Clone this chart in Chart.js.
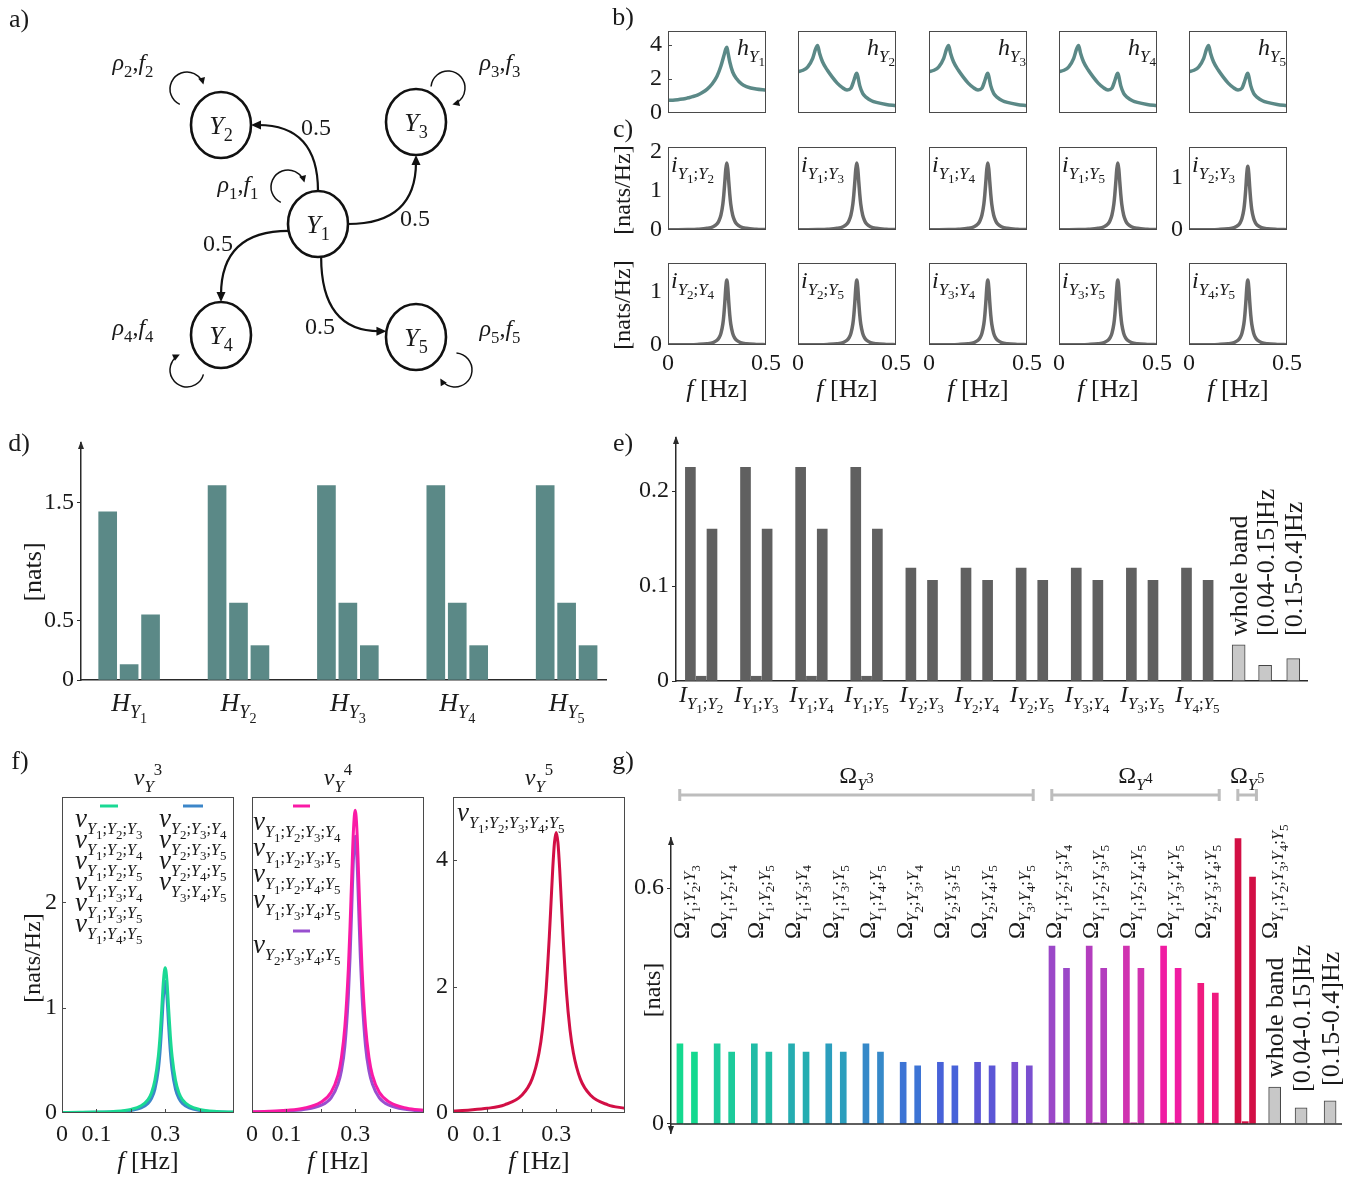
<!DOCTYPE html>
<html><head><meta charset="utf-8"><title>Figure</title>
<script src="https://cdn.jsdelivr.net/npm/chart.js@4.4.1/dist/chart.umd.min.js"></script>
<style>
html,body{margin:0;padding:0;background:#fff;}
#root{position:relative;width:1367px;height:1177px;overflow:hidden;background:#fff;}
#root canvas{position:absolute;}
</style></head><body><div id="root"></div>
<script>
// ================= DATA =================
// a) network
const NODE_LABELS=['Y_1','Y_2','Y_3','Y_4','Y_5'];
const NODE_X=[318,221,416,221,416];
const NODE_Y=[224,125,122,335,337];
const LOOP_LABELS=['ρ_1,f_1','ρ_2,f_2','ρ_3,f_3','ρ_4,f_4','ρ_5,f_5'];
const EDGE_TO=[1,2,3,4];
const EDGE_W=[0.5,0.5,0.5,0.5];

// b) spectra
const F_H=[0,0.025,0.05,0.075,0.09,0.1,0.11,0.125,0.15,0.175,0.2,0.225,0.25,0.27,0.285,0.295,0.3,0.305,0.315,0.33,0.35,0.375,0.4,0.45,0.5];
const hY1=[0.74,0.75,0.78,0.82,0.85,0.88,0.91,0.96,1.05,1.2,1.4,1.7,2.15,2.75,3.35,3.75,3.85,3.6,3.0,2.4,2.0,1.7,1.55,1.4,1.34];
const hY2=[2.42,2.5,2.7,3.2,3.75,3.95,3.5,3.0,2.5,2.1,1.75,1.5,1.35,1.45,1.9,2.25,2.33,2.15,1.6,1.15,0.9,0.72,0.62,0.5,0.43];
const hY3=[2.42,2.5,2.7,3.2,3.75,3.95,3.5,3.0,2.5,2.1,1.75,1.5,1.35,1.45,1.9,2.25,2.33,2.15,1.6,1.15,0.9,0.72,0.62,0.5,0.43];
const hY4=[2.42,2.5,2.7,3.2,3.75,3.95,3.5,3.0,2.5,2.1,1.75,1.5,1.35,1.45,1.9,2.25,2.33,2.15,1.6,1.15,0.9,0.72,0.62,0.5,0.43];
const hY5=[2.42,2.5,2.7,3.2,3.75,3.95,3.5,3.0,2.5,2.1,1.75,1.5,1.35,1.45,1.9,2.25,2.33,2.15,1.6,1.15,0.9,0.72,0.62,0.5,0.43];
const H_NAMES=['h_{Y_1}','h_{Y_2}','h_{Y_3}','h_{Y_4}','h_{Y_5}'];

// c) pairwise spectral MI & f) O-information spectra
const F=[0,0.05,0.1,0.15,0.2,0.23,0.25,0.26,0.27,0.28,0.285,0.29,0.295,0.3,0.305,0.31,0.315,0.32,0.33,0.34,0.35,0.37,0.4,0.45,0.5];
const iWithY1=[0.005,0.007,0.011,0.019,0.043,0.085,0.16,0.24,0.38,0.67,0.92,1.24,1.57,1.72,1.57,1.24,0.92,0.67,0.38,0.24,0.16,0.085,0.043,0.019,0.011];
const iOthers=[0.003,0.004,0.006,0.011,0.024,0.047,0.089,0.134,0.22,0.40,0.57,0.81,1.09,1.23,1.09,0.81,0.57,0.40,0.22,0.134,0.089,0.047,0.024,0.011,0.006];
const I_NAMES=['i_{Y_1;Y_2}','i_{Y_1;Y_3}','i_{Y_1;Y_4}','i_{Y_1;Y_5}','i_{Y_2;Y_3}','i_{Y_2;Y_4}','i_{Y_2;Y_5}','i_{Y_3;Y_4}','i_{Y_3;Y_5}','i_{Y_4;Y_5}'];

const vGreen=[0.004,0.006,0.009,0.015,0.034,0.069,0.128,0.19,0.31,0.54,0.73,0.99,1.26,1.38,1.26,0.99,0.73,0.54,0.31,0.19,0.128,0.069,0.034,0.015,0.009];
const vBlue=[0.003,0.004,0.006,0.011,0.024,0.048,0.091,0.136,0.224,0.41,0.58,0.83,1.11,1.25,1.11,0.83,0.58,0.41,0.224,0.136,0.091,0.048,0.024,0.011,0.006];
const vPink=[0.019,0.027,0.043,0.076,0.17,0.33,0.60,0.88,1.37,2.27,2.95,3.75,4.48,4.79,4.48,3.75,2.95,2.27,1.37,0.88,0.60,0.33,0.17,0.076,0.043];
const vPurple=[0.014,0.020,0.031,0.056,0.12,0.24,0.46,0.67,1.06,1.84,2.46,3.25,4.03,4.38,4.03,3.25,2.46,1.84,1.06,0.67,0.46,0.24,0.12,0.056,0.031];
const vRed=[0.033,0.048,0.074,0.13,0.28,0.54,0.95,1.32,1.90,2.79,3.33,3.87,4.28,4.44,4.28,3.87,3.33,2.79,1.90,1.32,0.95,0.54,0.28,0.13,0.074];
const V3_LEFT=['ν_{Y_1;Y_2;Y_3}','ν_{Y_1;Y_2;Y_4}','ν_{Y_1;Y_2;Y_5}','ν_{Y_1;Y_3;Y_4}','ν_{Y_1;Y_3;Y_5}','ν_{Y_1;Y_4;Y_5}'];
const V3_RIGHT=['ν_{Y_2;Y_3;Y_4}','ν_{Y_2;Y_3;Y_5}','ν_{Y_2;Y_4;Y_5}','ν_{Y_3;Y_4;Y_5}'];
const V4_A=['ν_{Y_1;Y_2;Y_3;Y_4}','ν_{Y_1;Y_2;Y_3;Y_5}','ν_{Y_1;Y_2;Y_4;Y_5}','ν_{Y_1;Y_3;Y_4;Y_5}'];
const V4_B=['ν_{Y_2;Y_3;Y_4;Y_5}'];
const V5=['ν_{Y_1;Y_2;Y_3;Y_4;Y_5}'];
const V_TITLES=['ν_{Y}^{3}','ν_{Y}^{4}','ν_{Y}^{5}'];

// d) entropies
const H_CATS=['H_{Y_1}','H_{Y_2}','H_{Y_3}','H_{Y_4}','H_{Y_5}'];
const H_WHOLE=[1.42,1.64,1.64,1.64,1.64];
const H_LF=[0.13,0.65,0.65,0.65,0.65];
const H_HF=[0.55,0.29,0.29,0.29,0.29];

// e) mutual information
const I_CATS=['I_{Y_1;Y_2}','I_{Y_1;Y_3}','I_{Y_1;Y_4}','I_{Y_1;Y_5}','I_{Y_2;Y_3}','I_{Y_2;Y_4}','I_{Y_2;Y_5}','I_{Y_3;Y_4}','I_{Y_3;Y_5}','I_{Y_4;Y_5}'];
const I_WHOLE=[0.225,0.225,0.225,0.225,0.119,0.119,0.119,0.119,0.119,0.119];
const I_LF=[0.005,0.005,0.005,0.005,0,0,0,0,0,0];
const I_HF=[0.160,0.160,0.160,0.160,0.106,0.106,0.106,0.106,0.106,0.106];
const BANDS=['whole band','[0.04-0.15]Hz','[0.15-0.4]Hz'];
const I_BAND_KEY=[0.038,0.0165,0.0235];

// g) O-information
const O_CATS=['Ω_{Y_1;Y_2;Y_3}','Ω_{Y_1;Y_2;Y_4}','Ω_{Y_1;Y_2;Y_5}','Ω_{Y_1;Y_3;Y_4}','Ω_{Y_1;Y_3;Y_5}','Ω_{Y_1;Y_4;Y_5}','Ω_{Y_2;Y_3;Y_4}','Ω_{Y_2;Y_3;Y_5}','Ω_{Y_2;Y_4;Y_5}','Ω_{Y_3;Y_4;Y_5}','Ω_{Y_1;Y_2;Y_3;Y_4}','Ω_{Y_1;Y_2;Y_3;Y_5}','Ω_{Y_1;Y_2;Y_4;Y_5}','Ω_{Y_1;Y_3;Y_4;Y_5}','Ω_{Y_2;Y_3;Y_4;Y_5}','Ω_{Y_1;Y_2;Y_3;Y_4;Y_5}'];
const O_WHOLE=[0.204,0.204,0.204,0.204,0.204,0.204,0.157,0.157,0.157,0.157,0.453,0.453,0.453,0.453,0.358,0.726];
const O_LF=[0,0,0,0,0,0,0,0,0,0,0.003,0.003,0.003,0.003,0.002,0.006];
const O_HF=[0.183,0.183,0.183,0.183,0.183,0.183,0.148,0.148,0.148,0.148,0.396,0.396,0.396,0.396,0.333,0.628];
const O_GROUP_TITLES=['Ω_{Y^{3}}','Ω_{Y^{4}}','Ω_{Y^{5}}'];
const O_GROUP_SIZES=[10,5,1];
const O_BAND_KEY=[0.094,0.041,0.059];

// ================= STYLE =================
const INK='#1a1a1a', AX='#2a2a2a', TEAL='#5b8987', IGRAY='#6a6a6a', EBAR='#606060', FRAME='#4a4a4a';
const GREEN='#1ad994', BLUE='#3c86c9', PINK='#fa1aa6', PURPLE='#984fcf', RED='#d20f45';
const G_COLORS=['#14d98f','#1ccb9b','#20bca6','#25adb1','#2b9ebd','#3689c9','#3d74d5','#4762d9','#5b56d6','#7a4fd0','#9b48c8','#b33dbe','#d033b0','#f01ca2','#ef1a7f','#d20f45'];
const KEY_FILL='#c8c8c8', KEY_EDGE='#454545';
const SERIF='"Liberation Serif","Times New Roman",serif';
const TF={family:"'Liberation Serif', serif", size:24};
const root=document.getElementById('root');

// ================= helpers =================
function parseM(s){let i=0;function grp(){const out=[];while(i<s.length){const ch=s[i];
 if(ch==='}'){i++;return out;}
 if(ch==='_'||ch==='^'){i++;let a;if(s[i]==='{'){i++;a=grp();}else{a=[{t:'c',v:s[i]}];i++;}out.push({t:ch,c:a});}
 else if(ch==='~'){out.push({t:'~'});i++;}
 else{out.push({t:'c',v:ch});i++;}}return out;}return grp();}
function runM(ctx,nodes,x,y,size,draw,st,depth,R){let w=0;for(const n of nodes){
 if(n.t==='~'){st.up=!st.up;continue;}
 if(n.t==='c'){const it=!st.up&&/[A-Za-z\u03b1-\u03c9]/.test(n.v);ctx.font=(it?'italic ':'')+size+'px '+SERIF;if(draw)ctx.fillText(n.v,x+w,y);w+=ctx.measureText(n.v).width;}
 else{const s2=Math.max(9,size*(depth===0?R[0]:R[1]));const dy=n.t==='_'?size*0.28:-size*0.42;w+=runM(ctx,n.c,x+w,y+dy,s2,draw,{up:st.up},depth+1,R);}}
 return w;}
function drawM(ctx,s,x,y,size,align,rot,color,r1,r2){const nodes=parseM(s);const R=[r1||0.7,r2||0.78];ctx.save();ctx.textAlign='left';ctx.textBaseline='alphabetic';ctx.fillStyle=color||INK;
 const w=runM(ctx,nodes,0,0,size,false,{up:false},0,R);ctx.translate(x,y);if(rot)ctx.rotate(rot);
 const ox=align==='center'?-w/2:align==='right'?-w:0;runM(ctx,nodes,ox,size*0.33,size,true,{up:false},0,R);ctx.restore();return w;}
function drawT(ctx,t,x,y,size,align,rot,color){ctx.save();ctx.font=size+'px '+SERIF;ctx.fillStyle=color||INK;ctx.textAlign=align||'left';ctx.textBaseline='alphabetic';ctx.translate(x,y);if(rot)ctx.rotate(rot);ctx.fillText(t,0,size*0.33);ctx.restore();}
function arrowHead(ctx,tip,ux,uy,len,hw){ctx.beginPath();ctx.moveTo(tip[0],tip[1]);ctx.lineTo(tip[0]-ux*len-uy*hw,tip[1]-uy*len+ux*hw);ctx.lineTo(tip[0]-ux*len+uy*hw,tip[1]-uy*len-ux*hw);ctx.closePath();ctx.fill();}

function mk(area,m,cfg){
 const [x0,y0,x1,y1]=area;
 const W=Math.round(x1-x0+m.l+m.r),H=Math.round(y1-y0+m.t+m.b);
 const c=document.createElement('canvas');c.width=W;c.height=H;
 c.style.left=(x0-m.l)+'px';c.style.top=(y0-m.t)+'px';c.style.width=W+'px';c.style.height=H+'px';
 root.appendChild(c);
 const o=cfg.options=cfg.options||{};
 o.responsive=false;o.maintainAspectRatio=false;o.animation=false;o.devicePixelRatio=1;o.events=[];
 o.layout={padding:{top:m.t,right:m.r,left:0,bottom:0},autoPadding:false};
 o.plugins=Object.assign({legend:{display:false},tooltip:{enabled:false},title:{display:false}},o.plugins||{});
 const fix=(s,isX)=>{if(isX)s.height=m.b;else s.width=m.l;s.paddingLeft=0;s.paddingRight=0;s.paddingTop=0;s.paddingBottom=0;};
 o.scales.x.afterFit=s=>fix(s,true);
 o.scales.y.afterFit=s=>fix(s,false);
 return new Chart(c,cfg);
}

function spec(area,o){
 const m={l:o.ml||0,t:o.mt||0,r:o.mr||0,b:o.mb||0};
 const ds=o.series.map(s=>({data:o.xs.map((x,i)=>({x,y:s.data[i]})),borderColor:s.color,borderWidth:s.w||3,pointRadius:0,cubicInterpolationMode:'monotone',fill:false}));
 return mk(area,m,{type:'line',data:{datasets:ds},options:{scales:{
  x:{type:'linear',min:0,max:0.5,offset:false,grid:{display:false,drawTicks:false},border:{display:false},
     ticks:{display:!!o.xTicks,font:TF,color:INK,padding:o.xPad??4,maxRotation:0,autoSkip:false,callback:v=>String(v)},
     afterBuildTicks:s=>{if(o.xTicks)s.ticks=o.xTicks.map(v=>({value:v}));}},
  y:{type:'linear',min:0,max:o.ymax,grid:{display:false,drawTicks:false},border:{display:false},
     ticks:{display:!!o.yTicks,font:TF,color:INK,padding:o.yPad??6,autoSkip:false,callback:v=>String(v)},
     afterBuildTicks:s=>{if(o.yTicks)s.ticks=o.yTicks.map(v=>({value:v}));}}
 }},plugins:[{id:'frame',afterDatasetsDraw(ch){const a=ch.chartArea,ctx=ch.ctx;ctx.save();ctx.strokeStyle=FRAME;ctx.lineWidth=1;
  ctx.strokeRect(a.left+0.5,a.top+0.5,a.width-1,a.height-1);ctx.beginPath();
  (o.yMinor||[]).forEach(v=>{const y=Math.round(ch.scales.y.getPixelForValue(v))+0.5;ctx.moveTo(a.left,y);ctx.lineTo(a.left+4,y);});
  (o.xMinor||[]).forEach(v=>{const x=Math.round(ch.scales.x.getPixelForValue(v))+0.5;ctx.moveTo(x,a.bottom);ctx.lineTo(x,a.bottom-4);});
  ctx.stroke();ctx.restore();if(o.draw)o.draw(ch);}}]});
}

// ================= a) network =================
const ELLIPSE=(()=>{const c=document.createElement('canvas');c.width=66;c.height=72;const x=c.getContext('2d');x.beginPath();x.ellipse(33,36,30,33,0,0,Math.PI*2);x.fillStyle='#fff';x.fill();x.lineWidth=2.6;x.strokeStyle='#111';x.stroke();return c;})();
const EDGE_GEOM=[[-90,0],[0,90],[168,-90],[84,190]];
const EDGE_LABEL_XY=[[316,127],[415,218],[218,243],[320,326]];
const LOOP_GEOM=[[-30,-37,115,345],[-34,-36,115,345],[32,-34,185,435],[-34,35,15,245],[39,33,275,510]];
const LOOP_LABEL_XY=[[238,184],[133,62],[500,62],[133,327],[500,328]];
mk([0,0,600,400],{l:0,t:0,r:0,b:0},{type:'scatter',
 data:{datasets:[{data:NODE_X.map((x,i)=>({x,y:NODE_Y[i]})),pointStyle:ELLIPSE,pointRadius:33,clip:false}]},
 options:{scales:{x:{type:'linear',min:0,max:600,display:false},y:{type:'linear',min:0,max:400,reverse:true,display:false}}},
 plugins:[{id:'diag',
  beforeDatasetsDraw(ch){const ctx=ch.ctx,xs=ch.scales.x,ys=ch.scales.y,D=Math.PI/180;
   const ctr=i=>[xs.getPixelForValue(NODE_X[i]),ys.getPixelForValue(NODE_Y[i])];
   const pt=(i,a)=>{const c=ctr(i);return [c[0]+30*Math.cos(a*D),c[1]+33*Math.sin(a*D)];};
   ctx.save();ctx.strokeStyle='#111';ctx.fillStyle='#111';ctx.lineWidth=2.2;
   EDGE_TO.forEach((t,j)=>{const g=EDGE_GEOM[j];const S=pt(0,g[0]),E=pt(t,g[1]);
    const vert=Math.abs(Math.sin(g[0]*D))>0.5;const C=vert?[S[0],E[1]]:[E[0],S[1]];
    const dx=E[0]-C[0],dy=E[1]-C[1],L=Math.hypot(dx,dy),ux=dx/L,uy=dy/L;
    ctx.beginPath();ctx.moveTo(S[0],S[1]);ctx.quadraticCurveTo(C[0],C[1],E[0]-ux*7,E[1]-uy*7);ctx.stroke();
    arrowHead(ctx,E,ux,uy,10,4.5);});
   ctx.lineWidth=1.5;
   LOOP_GEOM.forEach((g,i)=>{const c=ctr(i);const lx=c[0]+g[0],ly=c[1]+g[1],r=17;
    ctx.beginPath();ctx.arc(lx,ly,r,g[2]*D,(g[3]-14)*D,false);ctx.stroke();
    const E=[lx+r*Math.cos(g[3]*D),ly+r*Math.sin(g[3]*D)];const dir=(g[3]+90)*D;
    arrowHead(ctx,E,Math.cos(dir),Math.sin(dir),7,3.5);});
   ctx.restore();},
  afterDatasetsDraw(ch){const ctx=ch.ctx,xs=ch.scales.x,ys=ch.scales.y;
   NODE_LABELS.forEach((s,i)=>drawM(ctx,s,xs.getPixelForValue(NODE_X[i]),ys.getPixelForValue(NODE_Y[i]),26,'center'));
   EDGE_W.forEach((w,j)=>drawT(ctx,String(w),xs.getPixelForValue(EDGE_LABEL_XY[j][0]),ys.getPixelForValue(EDGE_LABEL_XY[j][1]),24,'center'));
   LOOP_LABELS.forEach((s,i)=>drawM(ctx,s,xs.getPixelForValue(LOOP_LABEL_XY[i][0]),ys.getPixelForValue(LOOP_LABEL_XY[i][1]),24,'center'));}
 }]});

// ================= b) =================
const BX=[668,798,929,1059,1189];
const H_SERIES=[hY1,hY2,hY3,hY4,hY5];
BX.forEach((x,k)=>spec([x,31,x+98,113],{xs:F_H,series:[{data:H_SERIES[k],color:TEAL,w:3.5}],ymax:4.8,
 yTicks:k===0?[0,2,4]:null,yMinor:k===0?[2,4]:null,ml:k===0?40:2,mr:4,mt:8,mb:k===0?16:4,
 draw:ch=>{const a=ch.chartArea;drawM(ch.ctx,H_NAMES[k],a.right-1,a.top+16,24,'right');}}));

// ================= c) =================
const I_SERIES=[iWithY1,iWithY1,iWithY1,iWithY1,iOthers,iOthers,iOthers,iOthers,iOthers,iOthers];
for(let k=0;k<10;k++){
 const row=k<5?0:1, col=k%5, x=BX[col];
 const area=row===0?[x,147,x+98,230]:[x,263,x+98,345];
 const ymax=row===0?(col<4?2.13:1.6):1.55;
 let yTicks=null; if(row===0&&col===0)yTicks=[0,1,2]; if(row===0&&col===4)yTicks=[0,1]; if(row===1&&col===0)yTicks=[0,1];
 spec(area,{xs:F,series:[{data:I_SERIES[k],color:IGRAY,w:3.5}],ymax,yTicks,
  xTicks:row===1?[0,0.5]:null,xPad:4,
  ml:yTicks?40:(row===1?10:2),mr:row===1?22:4,mt:yTicks?14:2,mb:row===1?62:(yTicks?16:2),
  draw:ch=>{const a=ch.chartArea;drawM(ch.ctx,I_NAMES[k],a.left+3,a.top+17,24,'left');
   if(row===1)drawM(ch.ctx,'f ~[Hz]',a.left+a.width/2,a.bottom+43,26,'center');}});
}

// ================= f) =================
function legendLine(ctx,x0,x1,y,color){ctx.save();ctx.strokeStyle=color;ctx.lineWidth=3;ctx.beginPath();ctx.moveTo(x0,y);ctx.lineTo(x1,y);ctx.stroke();ctx.restore();}
const LEG=(ctx,s,x,y)=>drawM(ctx,s,x,y,27,'left',0,INK,0.6,0.8);
spec([62,797,234,1113],{xs:F,series:[{data:vGreen,color:GREEN,w:3},{data:vBlue,color:BLUE,w:3}],ymax:3,
 yTicks:[0,1,2],xTicks:[0,0.1,0.3],yMinor:[1,2],xMinor:[0.1,0.2,0.3,0.4],xPad:7,yPad:5,ml:40,mr:8,mt:40,mb:66,
 draw:ch=>{const a=ch.chartArea,ctx=ch.ctx;
  drawM(ctx,V_TITLES[0],(a.left+a.right)/2,a.top-20,24,'center');
  legendLine(ctx,a.left+38,a.left+56,a.top+9,GREEN);legendLine(ctx,a.left+121,a.left+141,a.top+9,BLUE);
  V3_LEFT.forEach((s,i)=>LEG(ctx,s,a.left+13,a.top+21+21*i));
  V3_RIGHT.forEach((s,i)=>LEG(ctx,s,a.left+97,a.top+21+21*i));
  drawM(ctx,'f ~[Hz]',(a.left+a.right)/2,a.bottom+47,26,'center');}});
spec([252,797,424,1113],{xs:F,series:[{data:vPink,color:PINK,w:3},{data:vPurple,color:PURPLE,w:3}],ymax:5,
 xTicks:[0,0.1,0.3],xMinor:[0.1,0.2,0.3,0.4],xPad:7,ml:10,mr:8,mt:40,mb:66,
 draw:ch=>{const a=ch.chartArea,ctx=ch.ctx;
  drawM(ctx,V_TITLES[1],(a.left+a.right)/2,a.top-20,24,'center');
  legendLine(ctx,a.left+41,a.left+58,a.top+9,PINK);
  V4_A.forEach((s,i)=>LEG(ctx,s,a.left+1,a.top+24+26*i));
  legendLine(ctx,a.left+41,a.left+58,a.top+134,PURPLE);
  V4_B.forEach(s=>LEG(ctx,s,a.left+1,a.top+147));
  drawM(ctx,'f ~[Hz]',(a.left+a.right)/2,a.bottom+47,26,'center');}});
spec([453,797,625,1113],{xs:F,series:[{data:vRed,color:RED,w:3}],ymax:5,
 yTicks:[0,2,4],xTicks:[0,0.1,0.3],yMinor:[2,4],xMinor:[0.1,0.2,0.3,0.4],xPad:7,yPad:5,ml:30,mr:8,mt:40,mb:66,
 draw:ch=>{const a=ch.chartArea,ctx=ch.ctx;
  drawM(ctx,V_TITLES[2],(a.left+a.right)/2,a.top-20,24,'center');
  V5.forEach(s=>LEG(ctx,s,a.left+4,a.top+15));
  drawM(ctx,'f ~[Hz]',(a.left+a.right)/2,a.bottom+47,26,'center');}});

// ================= bar helper =================
function barAxes(xmin,xmax,ymin,ymax,yTicks,drawXBorder){
 return {
  x:{type:'linear',min:xmin,max:xmax,offset:false,grid:{display:false,drawTicks:false},border:{display:drawXBorder,color:AX,width:1.5},ticks:{display:false}},
  y:{type:'linear',min:ymin,max:ymax,grid:{drawOnChartArea:false,drawTicks:true,tickLength:4,color:AX},border:{display:true,color:AX,width:1.5},
     ticks:{font:TF,color:INK,padding:3,autoSkip:false,callback:v=>String(v)},afterBuildTicks:s=>{s.ticks=yTicks.map(v=>({value:v}));}}
 };
}
const barDs=(vals,off,color,th,extra)=>Object.assign({data:vals.map((v,i)=>({x:i+1+off,y:v})),backgroundColor:color,barThickness:th,grouped:false,borderWidth:0},extra||{});

// ================= d) =================
mk([81,443,606,680],{l:81,t:6,r:10,b:45},{type:'bar',data:{datasets:[
  barDs(H_WHOLE,-0.196,TEAL,18),barDs(H_LF,0,TEAL,18),barDs(H_HF,0.196,TEAL,18)]},
 options:{scales:barAxes(0.56,5.36,0,2.0,[0,0.5,1.5],true)},
 plugins:[{id:'dlab',afterDraw(ch){const a=ch.chartArea,ctx=ch.ctx,xs=ch.scales.x;
  ctx.save();ctx.fillStyle=AX;arrowHead(ctx,[a.left,a.top-2],0,-1,8,3);ctx.restore();
  H_CATS.forEach((s,i)=>drawM(ctx,s,xs.getPixelForValue(i+1),a.bottom+22,26,'center'));}}]});

// ================= e) =================
const E_KEY_X=[10.75,11.23,11.74];
mk([676,438,1307,681],{l:60,t:6,r:40,b:45},{type:'bar',data:{datasets:[
  barDs(I_WHOLE,-0.196,EBAR,10),barDs(I_LF,0,EBAR,10),barDs(I_HF,0.196,EBAR,10),
  {data:I_BAND_KEY.map((v,i)=>({x:E_KEY_X[i],y:v})),backgroundColor:KEY_FILL,borderColor:KEY_EDGE,borderWidth:1,barThickness:13,grouped:false}]},
 options:{scales:barAxes(0.543,11.99,0,0.256,[0,0.1,0.2],true)},
 plugins:[{id:'elab',afterDraw(ch){const a=ch.chartArea,ctx=ch.ctx,xs=ch.scales.x;
  ctx.save();ctx.fillStyle=AX;arrowHead(ctx,[a.left,a.top-2],0,-1,8,3);ctx.restore();
  I_CATS.forEach((s,i)=>drawM(ctx,s,xs.getPixelForValue(i+1),a.bottom+13,24,'center'));
  BANDS.forEach((t,i)=>drawT(ctx,t,xs.getPixelForValue(E_KEY_X[i]),a.top+198,26,'left',-Math.PI/2));}}]});

// ================= g) =================
const G_KEY_X=[16.79,17.50,18.28];
const G_KEY_TEXT_Y=[240,254,248];
mk([671,838,1342,1133],{l:60,t:92,r:20,b:40},{type:'bar',data:{datasets:[
  barDs(O_WHOLE,-0.195,G_COLORS,6),barDs(O_LF,0,G_COLORS,6),barDs(O_HF,0.195,G_COLORS,6),
  {data:O_BAND_KEY.map((v,i)=>({x:G_KEY_X[i],y:v})),backgroundColor:KEY_FILL,borderColor:KEY_EDGE,borderWidth:1,barThickness:12,grouped:false}]},
 options:{scales:barAxes(0.565,18.6,-0.0229,0.7277,[0,0.6],false)},
 plugins:[{id:'glab',afterDraw(ch){const a=ch.chartArea,ctx=ch.ctx,xs=ch.scales.x,ys=ch.scales.y;
  const y0=ys.getPixelForValue(0);
  ctx.save();ctx.strokeStyle=AX;ctx.lineWidth=1.5;ctx.beginPath();ctx.moveTo(a.left,y0);ctx.lineTo(a.right,y0);ctx.stroke();
  ctx.fillStyle=AX;arrowHead(ctx,[a.left,a.top-1],0,-1,8,3);arrowHead(ctx,[a.left,a.bottom+1],0,1,8,3);ctx.restore();
  O_CATS.forEach((s,i)=>{const k=i+1;const x=xs.getPixelForValue(k)+(k===O_CATS.length?24:-6);drawM(ctx,s,x,a.top+101,23,'left',-Math.PI/2,INK,0.72,0.8);});
  let s0=1;O_GROUP_SIZES.forEach((n,g)=>{const e=s0+n-1;const x0=xs.getPixelForValue(s0-0.2),x1=xs.getPixelForValue(e+0.3);const yb=a.top-43;
   ctx.save();ctx.strokeStyle='#bdbdbd';ctx.lineWidth=3;ctx.beginPath();ctx.moveTo(x0,yb);ctx.lineTo(x1,yb);ctx.moveTo(x0,yb-6);ctx.lineTo(x0,yb+6);ctx.moveTo(x1,yb-6);ctx.lineTo(x1,yb+6);ctx.stroke();ctx.restore();
   drawM(ctx,O_GROUP_TITLES[g],(x0+x1)/2,a.top-63,24,'center',0,INK,0.7,0.85);s0=e+1;});
  BANDS.forEach((t,i)=>drawT(ctx,t,xs.getPixelForValue(G_KEY_X[i]),a.top+G_KEY_TEXT_Y[i],26,'left',-Math.PI/2));}}]});

// ================= overlay texts =================
const ov=document.createElement('canvas');ov.width=1367;ov.height=1177;
ov.style.cssText='left:0;top:0;width:1367px;height:1177px;pointer-events:none;';
root.appendChild(ov);
const oc=ov.getContext('2d');
[['a)',19,18],['b)',623,16],['c)',623,128],['d)',19,442],['e)',623,442],['f)',20,760],['g)',623,760]].forEach(([t,x,y])=>drawT(oc,t,x,y,26,'center'));
drawT(oc,'[nats/Hz]',622,190,24,'center',-Math.PI/2);
drawT(oc,'[nats/Hz]',622,305,24,'center',-Math.PI/2);
drawT(oc,'[nats]',32,572,26,'center',-Math.PI/2);
drawT(oc,'[nats/Hz]',32,958,24,'center',-Math.PI/2);
drawT(oc,'[nats]',652,990,24,'center',-Math.PI/2);
</script></body></html>
